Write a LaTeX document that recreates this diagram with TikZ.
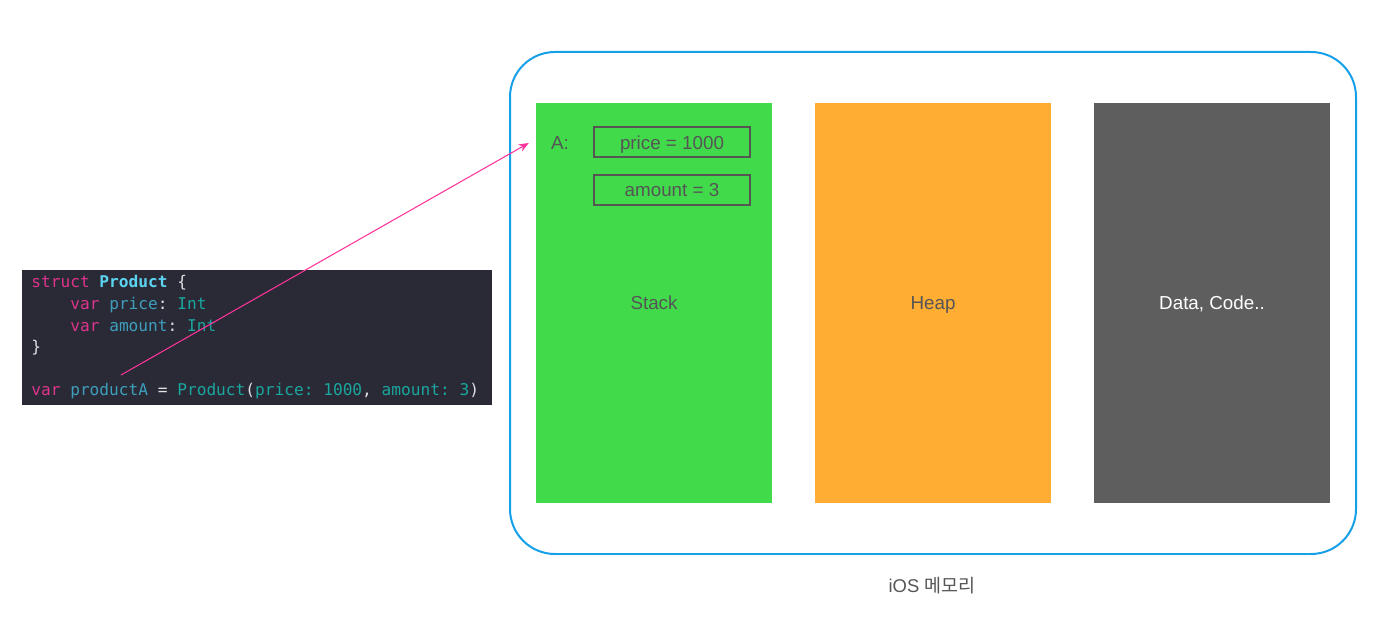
\documentclass[tikz,border=0pt]{standalone}
\usepackage{fontspec}
\setmainfont{Liberation Sans}
\setmonofont{DejaVu Sans Mono}
\newfontfamily\krfont{Noto Sans CJK KR}
\usetikzlibrary{arrows.meta}

\definecolor{codebg}{RGB}{41,42,54}
\definecolor{codefg}{RGB}{224,224,228}
\definecolor{kwpink}{RGB}{222,52,140}
\definecolor{declcyan}{RGB}{92,211,240}
\definecolor{propblue}{RGB}{62,158,188}
\definecolor{typeteal}{RGB}{26,166,158}
\definecolor{memblue}{RGB}{22,160,234}
\definecolor{stackgreen}{RGB}{65,218,75}
\definecolor{heaporange}{RGB}{255,174,51}
\definecolor{datagray}{RGB}{94,94,94}
\definecolor{labelgray}{RGB}{85,85,85}
\definecolor{ptrpink}{RGB}{255,51,153}

\newcommand\swKw[1]{\textcolor{kwpink}{#1}}
\newcommand\swDecl[1]{\textcolor{declcyan}{\bfseries #1}}
\newcommand\swProp[1]{\textcolor{propblue}{#1}}
\newcommand\swType[1]{\textcolor{typeteal}{#1}}

\begin{document}
\begin{tikzpicture}[%
        x=0.02cm, y=-0.02cm,
        region/.style={
            % the shape:
            rectangle,
            % the rest:
            minimum width=4.72cm,
            minimum height=8cm,
            inner sep=0pt,
            font=\fontsize{10.7}{13}\selectfont,
            text=labelgray,
            text height=7.7pt,
            text depth=0pt,
        },
        field/.style={
            draw=labelgray,
            line width=0.04cm,
            minimum width=3.12cm,
            minimum height=0.6cm,
            inner sep=0pt,
            font=\fontsize{10.7}{13}\selectfont,
            text=labelgray,
            text height=7.7pt,
            text depth=0pt,
        },
        codeline/.style={
            anchor=base west,
            inner sep=0pt,
            text=codefg,
            font=\ttfamily\fontsize{9.2}{12.3}\selectfont,
        },
        ptr/.style={
            draw=ptrpink,
            line width=0.6pt,
            -{Stealth[length=0.2cm,width=0.16cm]},
        },
    ]

    \useasboundingbox (0,0) rectangle (1385,617);

    % memory
    \draw[memblue, line width=0.04cm, rounded corners=0.9cm]
        (510,52) rectangle (1356,554);
    \node[region, fill=stackgreen] (stack) at (654,303) {Stack};
    \node[region, fill=heaporange] (heap) at (933,303) {Heap};
    \node[region, fill=datagray, text=white] (data) at (1212,303) {Data, Code..};
    \node[font=\fontsize{10.5}{13}\selectfont, text=labelgray, text height=7.7pt, text depth=0pt]
        (memlabel) at (932,586) {iOS {\krfont 메모리}};

    % stack frame of productA
    \node[font=\fontsize{10.7}{13}\selectfont, text=labelgray, inner sep=0pt,
          text height=7.7pt, text depth=0pt]
        (lblA) at (560,143) {A:};
    \node[field] (price) at (672,142.5) {price = 1000};
    \node[field] (amount) at (672,190) {amount = 3};

    % swift code
    \node[fill=codebg, minimum width=9.4cm, minimum height=2.7cm, inner sep=0pt]
        (code) at (257,337.5) {};
    \node[codeline] (line1) at (31,288) {\swKw{struct} \swDecl{Product} \{};
    \node[codeline] (line2) at (70,309.6) {\swKw{var} \swProp{price}: \swType{Int}};
    \node[codeline] (line3) at (70,331.2) {\swKw{var} \swProp{amount}: \swType{Int}};
    \node[codeline] (line4) at (31,352.8) {\}};
    \node[codeline] (line5) at (31,396)
        {\swKw{var} \swProp{productA} = \swType{Product}(\swType{price:} \swType{1000}, \swType{amount:} \swType{3})};

    \coordinate (src) at (121,375);
    \draw[ptr] (src) -- ([xshift=-0.44cm]lblA.west);

\end{tikzpicture}
\end{document}
